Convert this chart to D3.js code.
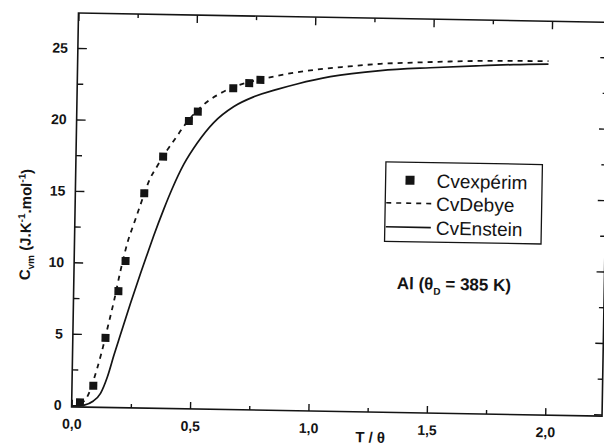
<!DOCTYPE html>
<html><head><meta charset="utf-8">
<script src="https://cdn.jsdelivr.net/npm/d3@7"></script>
<style>
html,body{margin:0;padding:0;background:#fff;}
svg{display:block;}
text{font-family:"Liberation Sans",Arial,sans-serif;fill:#141414;}
</style></head>
<body>
<svg id="chart" width="604" height="447"></svg>
<script>
// ---- data ----
const expT = [0.035, 0.090, 0.138, 0.189, 0.217, 0.291, 0.368, 0.474, 0.511, 0.659, 0.726, 0.773];
const expC = [0.2, 1.38, 4.75, 8.04, 10.15, 14.92, 17.5, 20.03, 20.69, 22.37, 22.75, 22.99];

const debyeT = [0.038, 0.065, 0.105, 0.122, 0.147, 0.172, 0.197, 0.223, 0.256, 0.273, 0.316, 0.344, 0.385, 0.419, 0.451, 0.55, 0.605, 0.843, 0.997, 1.138, 1.278, 1.419, 1.559, 1.70, 1.84, 1.988];
const debyeC = [0.1, 0.6, 2.6, 3.68, 5.53, 7.41, 9.52, 11.39, 13.1, 13.97, 16.0, 16.84, 17.98, 18.8, 19.6, 21.4, 22.0, 23.29, 23.75, 24.03, 24.26, 24.39, 24.5, 24.59, 24.63, 24.65];

const einT = [0.05, 0.09, 0.121, 0.149, 0.175, 0.201, 0.241, 0.282, 0.315, 0.334, 0.375, 0.408, 0.456, 0.511, 0.579, 0.663, 0.746, 0.844, 0.928, 1.068, 1.279, 1.489, 1.70, 1.84, 1.988];
const einC = [0.0, 0.3, 0.86, 2.03, 3.56, 5.0, 7.2, 9.35, 11.0, 11.95, 13.85, 15.25, 17.0, 18.5, 19.95, 21.1, 21.8, 22.35, 22.75, 23.3, 23.79, 24.05, 24.25, 24.37, 24.45];

const xMajor = [0, 0.5, 1.0, 1.5, 2.0];
const xMinor = [0.25, 0.75, 1.25, 1.75];
const xLabels = ["0,0", "0,5", "1,0", "1,5", "2,0"];
const yMajor = [0, 5, 10, 15, 20, 25];
const yMinor = [2.5, 7.5, 12.5, 17.5, 22.5];
const legendNames = ["Cvexpérim", "CvDebye", "CvEnstein"];

// ---- layout ----
const L = 75, R = 605.5, T = 17.6, B = 411.5;
const ink = "#141414";
const svg = d3.select("#chart");
const g = svg.append("g").attr("transform", "rotate(1,340,215)");

const x = d3.scaleLinear().domain([0, 2.24]).range([L, R]);
const y = d3.scaleLinear().domain([-0.12, 27.45]).range([B, T]);

function styleAxis(sel) {
  sel.select(".domain").remove();
  sel.selectAll(".tick line").attr("stroke", ink).attr("stroke-width", 1.4);
  sel.selectAll(".tick text").attr("font-weight", "bold").attr("fill", ink)
     .style("font-family", '"Liberation Sans",Arial,sans-serif');
}

// bottom axis
g.append("g").attr("transform", `translate(0,${B})`)
  .call(d3.axisBottom(x).tickValues(xMajor).tickSize(-7).tickPadding(12)
    .tickFormat((d, i) => xLabels[i]))
  .call(styleAxis).selectAll("text").attr("font-size", 14);
g.append("g").attr("transform", `translate(0,${B})`)
  .call(d3.axisBottom(x).tickValues(xMinor).tickSize(-4).tickFormat(""))
  .call(styleAxis);
// top axis
g.append("g").attr("transform", `translate(0,${T})`)
  .call(d3.axisTop(x).tickValues(xMajor).tickSize(-8).tickFormat(""))
  .call(styleAxis);
g.append("g").attr("transform", `translate(0,${T})`)
  .call(d3.axisTop(x).tickValues(xMinor).tickSize(-4).tickFormat(""))
  .call(styleAxis);
// left axis
g.append("g").attr("transform", `translate(${L},0)`)
  .call(d3.axisLeft(y).tickValues(yMajor).tickSize(-9).tickPadding(10).tickFormat(d3.format("d")))
  .call(styleAxis).selectAll("text").attr("font-size", 14);
g.append("g").attr("transform", `translate(${L},0)`)
  .call(d3.axisLeft(y).tickValues(yMinor).tickSize(-6).tickFormat(""))
  .call(styleAxis);
// right axis
g.append("g").attr("transform", `translate(${R},0)`)
  .call(d3.axisRight(y).tickValues(yMajor).tickSize(-8).tickFormat(""))
  .call(styleAxis);
g.append("g").attr("transform", `translate(${R},0)`)
  .call(d3.axisRight(y).tickValues(yMinor).tickSize(-5).tickFormat(""))
  .call(styleAxis);

// frame
g.append("rect").attr("x", L).attr("y", T).attr("width", R - L).attr("height", B - T)
  .attr("fill", "none").attr("stroke", ink).attr("stroke-width", 1.6);

// curves
const line = d3.line().x(d => x(d[0])).y(d => y(d[1])).curve(d3.curveMonotoneX);
g.append("path").datum(debyeT.map((t, i) => [t, debyeC[i]]))
  .attr("d", line).attr("fill", "none").attr("stroke", ink)
  .attr("stroke-width", 1.8).attr("stroke-dasharray", "5,5");
g.append("path").datum(einT.map((t, i) => [t, einC[i]]))
  .attr("d", line).attr("fill", "none").attr("stroke", ink)
  .attr("stroke-width", 1.7);

// squares
const sq = 8;
g.selectAll("rect.pt").data(expT.map((t, i) => [t, expC[i]])).enter()
  .append("rect").attr("class", "pt")
  .attr("x", d => x(d[0]) - sq / 2).attr("y", d => y(d[1]) - sq / 2)
  .attr("width", sq).attr("height", sq).attr("fill", ink);

// axis titles
g.append("text").attr("x", 374).attr("y", 442).attr("text-anchor", "middle")
  .attr("font-size", 15).attr("font-weight", "bold").text("T / θ");

const yt = g.append("text").attr("transform", "translate(31,230) rotate(-90)")
  .attr("text-anchor", "middle").attr("font-size", 15).attr("font-weight", "bold");
yt.append("tspan").text("C");
yt.append("tspan").attr("font-size", 10).attr("dy", 4).text("vm");
yt.append("tspan").attr("dy", -4).text(" (J.K");
yt.append("tspan").attr("font-size", 10).attr("dy", -6).text("-1");
yt.append("tspan").attr("dy", 6).text(".mol");
yt.append("tspan").attr("font-size", 10).attr("dy", -6).text("-1");
yt.append("tspan").attr("dy", 6).text(")");

// annotation
const an = g.append("text").attr("x", 398).attr("y", 288)
  .attr("font-size", 17).attr("font-weight", "bold");
an.append("tspan").text("Al (θ");
an.append("tspan").attr("font-size", 10).attr("dy", 5).text("D");
an.append("tspan").attr("dy", -5).text(" = 385 K)");

// legend
const lg = g.append("g");
lg.append("rect").attr("x", 385).attr("y", 161).attr("width", 156.5).attr("height", 79.5)
  .attr("fill", "#fff").attr("stroke", ink).attr("stroke-width", 1.3);
const rows = [179, 202, 226];
lg.append("rect").attr("x", 409.4 - 4.5).attr("y", rows[0] - 4.5)
  .attr("width", 9).attr("height", 9).attr("fill", ink);
lg.append("line").attr("x1", 386).attr("x2", 431).attr("y1", rows[1]).attr("y2", rows[1])
  .attr("stroke", ink).attr("stroke-width", 1.6).attr("stroke-dasharray", "5,5");
lg.append("line").attr("x1", 386).attr("x2", 431).attr("y1", rows[2]).attr("y2", rows[2])
  .attr("stroke", ink).attr("stroke-width", 1.6);
lg.selectAll("text.lt").data(legendNames).enter().append("text").attr("class", "lt")
  .attr("x", 436).attr("y", (d, i) => rows[i] + 7)
  .attr("font-size", 19).text(d => d);
</script>
</body></html>
